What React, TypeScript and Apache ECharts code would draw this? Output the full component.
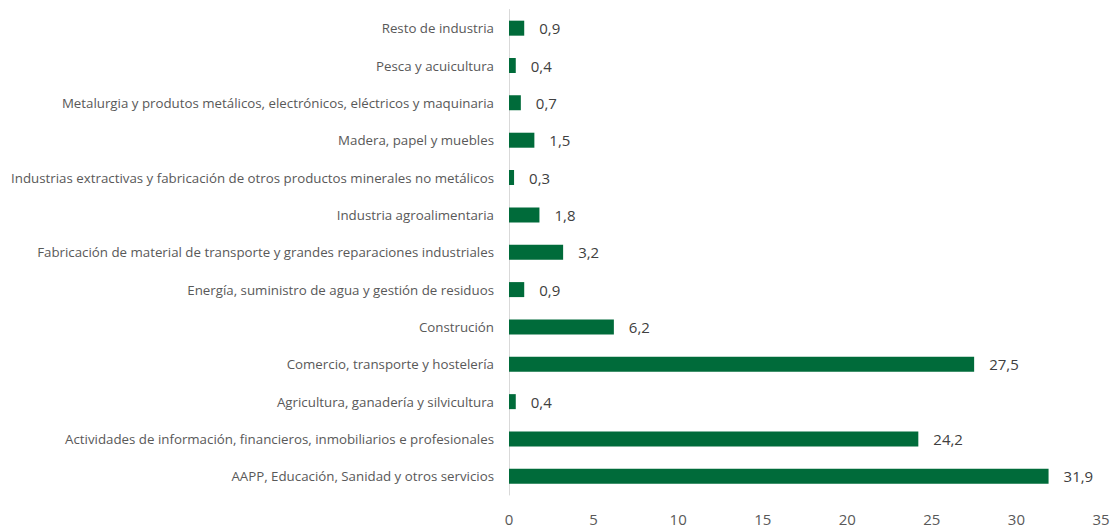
import React, { useEffect, useRef } from "react";
import * as echarts from "echarts";

const categories = [
  "AAPP, Educación, Sanidad y otros servicios",
  "Actividades de información, financieros, inmobiliarios e profesionales",
  "Agricultura, ganadería y silvicultura",
  "Comercio, transporte y hostelería",
  "Construción",
  "Energía, suministro de agua y gestión de residuos",
  "Fabricación de material de transporte y grandes reparaciones industriales",
  "Industria agroalimentaria",
  "Industrias extractivas y fabricación de otros productos minerales no metálicos",
  "Madera, papel y muebles",
  "Metalurgia y produtos metálicos, electrónicos, eléctricos y maquinaria",
  "Pesca y acuicultura",
  "Resto de industria",
];
const values = [31.9, 24.2, 0.4, 27.5, 6.2, 0.9, 3.2, 1.8, 0.3, 1.5, 0.7, 0.4, 0.9];
const xTicks = { min: 0, max: 35, interval: 5 };

export default function App() {
  const ref = useRef<HTMLDivElement>(null);
  useEffect(() => {
    if (!ref.current) return;
    const chart = echarts.init(ref.current, undefined, { renderer: "svg" });
    chart.setOption({
      animation: false,
      textStyle: { fontFamily: "Open Sans" },
      grid: { left: 509, right: 12, top: 9.5, bottom: 32, containLabel: false },
      xAxis: {
        type: "value",
        min: xTicks.min,
        max: xTicks.max,
        interval: xTicks.interval,
        axisLine: { show: false },
        axisTick: { show: false },
        splitLine: { show: false },
        axisLabel: { color: "#595959", fontSize: 15, margin: 16, fontFamily: "Open Sans" },
      },
      yAxis: {
        type: "category",
        data: categories,
        axisLine: { show: true, lineStyle: { color: "#d9d9d9", width: 1 } },
        axisTick: { show: false },
        splitLine: { show: false },
        axisLabel: { color: "#595959", fontSize: 13.3, margin: 15, fontFamily: "Open Sans" },
      },
      series: [
        {
          type: "bar",
          data: values,
          barWidth: 15,
          itemStyle: { color: "#006B3A" },
          label: {
            show: true,
            position: "right",
            distance: 15,
            color: "#404040",
            fontSize: 15,
            fontFamily: "Open Sans",
            formatter: (p: any) => p.value.toFixed(1).replace(".", ","),
          },
        },
      ],
    });
    return () => chart.dispose();
  }, []);
  return (
    <div
      ref={ref}
      style={{ position: "fixed", left: 0, top: 0, width: 1113, height: 527, background: "#fff" }}
    />
  );
}
